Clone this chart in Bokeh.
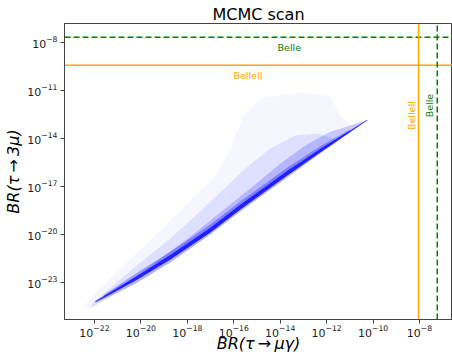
import numpy as np
from bokeh.plotting import figure
from bokeh.models import FixedTicker, Range1d, LogTickFormatter
from bokeh.core.properties import value
from bokeh.embed import file_html
from bokeh.resources import INLINE

# axis limits (log10 exponents)
x_lim_exp = (-23.29, -6.58)
y_lim_exp = (-25.33, -6.83)

x_tick_exp = [-22, -20, -18, -16, -14, -12, -10, -8]
y_tick_exp = [-23, -20, -17, -14, -11, -8]

x_label = "BR(\u03c4\u2009\u2192\u2009\u03bc\u03b3)"
y_label = "BR(\u03c4\u2009\u2192\u20093\u03bc)"
title = "MCMC scan"

# experimental limits
belle_3mu = 2.05e-8
belle2_3mu = 3.7e-10
belle2_mug = 9.1e-9
belle_mug = 5.8e-8

# MCMC scan cloud, traced as density regions (log10 exponents)
outer_x = [-22.47, -21.74, -20.88, -19.46, -18.00, -16.88, -16.15, -15.59, -14.73,
           -13.14, -11.85, -11.41, -10.90, -10.21, -12.28, -13.70, -15.72, -17.01,
           -18.73, -20.15, -21.31, -22.17]
outer_y = [-24.52, -23.33, -22.14, -20.21, -18.08, -16.46, -14.77, -12.58, -11.46,
           -11.14, -11.33, -12.58, -13.21, -12.83, -14.96, -16.46, -18.58, -20.02,
           -21.77, -23.02, -23.89, -24.64]

middle_x = [-22.09, -21.10, -20.02, -18.73, -17.65, -16.58, -15.50, -14.43, -13.35,
            -12.36, -11.50, -12.28, -13.70, -15.72, -17.01, -18.73, -20.15, -21.31, -22.17]
middle_y = [-24.33, -23.08, -21.77, -20.27, -18.83, -17.39, -15.89, -14.64, -13.83,
            -13.71, -14.14, -14.96, -16.46, -18.58, -20.02, -21.77, -23.02, -23.89, -24.64]

inner_x = [-21.74, -20.45, -19.16, -17.87, -16.58, -15.29, -14.00, -12.92, -11.85,
           -10.98, -10.21, -12.28, -13.70, -15.72, -17.01, -18.73, -20.15, -21.31, -21.96]
inner_y = [-24.08, -22.89, -21.52, -20.14, -18.64, -17.14, -15.60, -14.46, -13.60,
           -13.20, -12.83, -14.96, -16.46, -18.58, -20.02, -21.77, -23.02, -23.89, -24.27]

band_x = [-21.60, -20.15, -18.73, -17.01, -15.72, -13.70, -12.28, -11.00,
          -11.00, -12.28, -13.70, -15.72, -17.01, -18.73, -20.15, -21.60]
band_y = [-23.98, -22.83, -21.58, -19.89, -18.46, -16.33, -14.89, -13.63,
          -13.45, -14.50, -15.85, -17.95, -19.40, -21.10, -22.40, -23.80]

core_x = [-21.96, -20.15, -18.73, -17.01, -15.72, -13.70, -12.28, -10.25,
          -10.25, -12.28, -13.70, -15.72, -17.01, -18.73, -20.15, -21.96]
core_y = [-24.27, -22.83, -21.58, -19.89, -18.46, -16.33, -14.89, -12.89,
          -12.85, -14.68, -16.05, -18.16, -19.60, -21.30, -22.60, -24.17]

# label anchor positions (log10 exponents)
lab_h_x = [-13.61, -15.39]
lab_h_y = [-8.31, -10.08]
lab_h_text = ["Belle", "BelleII"]
lab_h_color = ["green", "orange"]
lab_v_x = [-8.36, -7.57]
lab_v_y = [-12.58, -11.96]
lab_v_text = ["BelleII", "Belle"]
lab_v_color = ["orange", "green"]

def p10(a):
    return [10.0 ** e for e in a]

FONT = "DejaVu Sans"

p = figure(width=452, height=356, x_axis_type="log", y_axis_type="log",
           x_range=Range1d(10 ** x_lim_exp[0], 10 ** x_lim_exp[1]),
           y_range=Range1d(10 ** y_lim_exp[0], 10 ** y_lim_exp[1]),
           output_backend="svg", toolbar_location=None,
           title=title,
           min_border_left=64, min_border_right=0, min_border_top=23, min_border_bottom=37)
p.grid.visible = False
p.background_fill_color = "white"
p.border_fill_color = "white"
p.outline_line_color = "#444444"
p.outline_line_width = 1

p.title.text_font = FONT
p.title.text_font_size = "16px"
p.title.text_font_style = "normal"
p.title.align = "center"
p.title.text_color = "black"
p.title.standoff = 0
p.title.offset = 0

for ax in (p.xaxis[0], p.yaxis[0]):
    ax.axis_line_color = "#444444"
    ax.major_tick_line_color = "#444444"
    ax.major_tick_out = 4
    ax.major_tick_in = 0
    ax.minor_tick_line_color = None
    ax.major_label_text_font = FONT
    ax.major_label_text_font_size = "11px"
    ax.major_label_text_color = "#222222"
    ax.major_label_standoff = 3
    ax.axis_label_text_font = FONT
    ax.axis_label_text_font_size = "16px"
    ax.axis_label_text_font_style = "italic"
    ax.axis_label_text_color = "black"
    ax.formatter = LogTickFormatter()

p.xaxis[0].ticker = FixedTicker(ticks=p10(x_tick_exp))
p.yaxis[0].ticker = FixedTicker(ticks=p10(y_tick_exp))
p.xaxis[0].major_label_standoff = 1
p.xaxis[0].axis_label = x_label
p.yaxis[0].axis_label = y_label
p.xaxis[0].axis_label_standoff = -6
p.yaxis[0].axis_label_standoff = 1

# cloud
p.patch(p10(outer_x), p10(outer_y), fill_color="blue", fill_alpha=0.035, line_color=None)
p.patch(p10(middle_x), p10(middle_y), fill_color="blue", fill_alpha=0.09, line_color=None)
p.patch(p10(inner_x), p10(inner_y), fill_color="blue", fill_alpha=0.18, line_color=None)
p.patch(p10(band_x), p10(band_y), fill_color="blue", fill_alpha=0.3, line_color=None)
p.patch(p10(core_x), p10(core_y), fill_color="blue", fill_alpha=0.75, line_color=None)

# limits
xs = p10(x_lim_exp)
ys = p10(y_lim_exp)
p.line(xs, [belle_3mu, belle_3mu], line_color="green", line_width=1.5, line_dash="6 3")
p.line(xs, [belle2_3mu, belle2_3mu], line_color="orange", line_width=1.5)
p.line([belle2_mug, belle2_mug], ys, line_color="orange", line_width=1.5)
p.line([belle_mug, belle_mug], ys, line_color="green", line_width=1.5, line_dash="6 3")

p.text(p10(lab_h_x), p10(lab_h_y), text=lab_h_text, text_color=lab_h_color,
       text_font=value(FONT), text_font_size="9.5px", text_align="center",
       text_baseline="middle")
p.text(p10(lab_v_x), p10(lab_v_y), text=lab_v_text, text_color=lab_v_color,
       text_font=value(FONT), text_font_size="9.5px", text_align="center",
       text_baseline="middle", angle=np.pi / 2)

open("out.html", "w").write(file_html(p, INLINE))
